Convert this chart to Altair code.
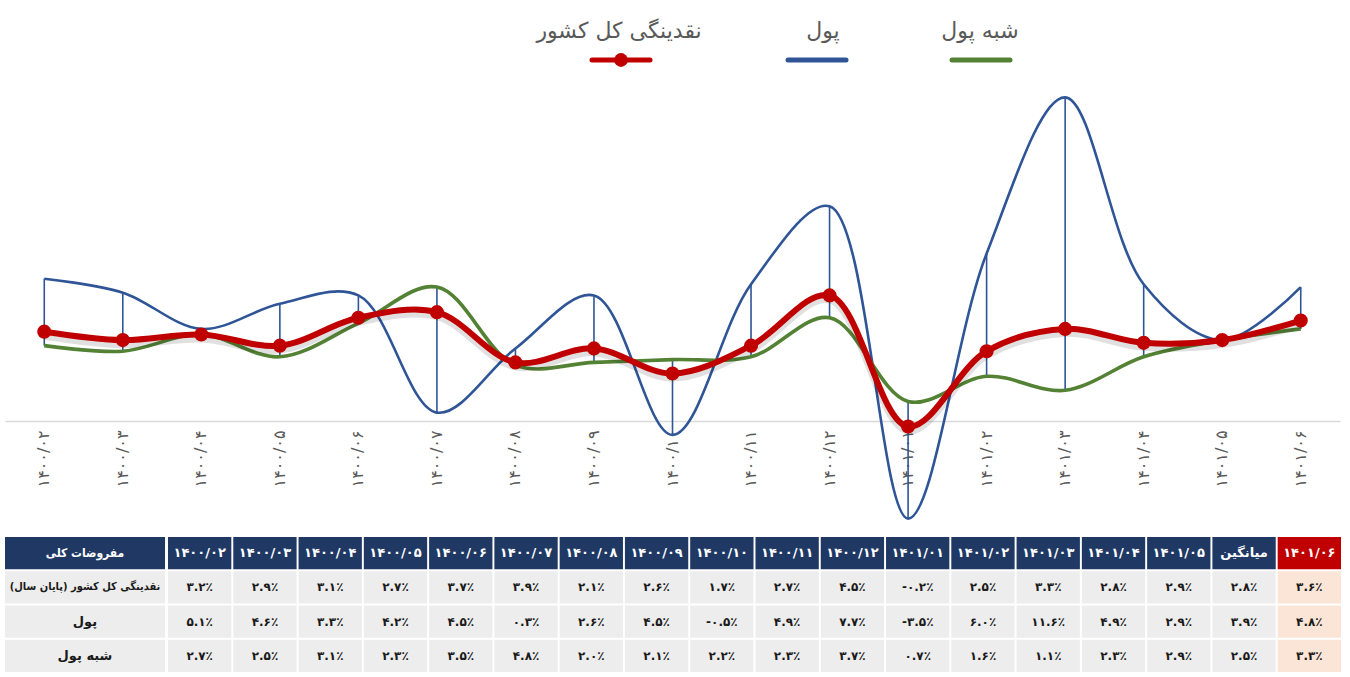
import altair as alt
import pandas as pd

FA = str.maketrans("0123456789", "۰۱۲۳۴۵۶۷۸۹")
def fa(s):
    return str(s).translate(FA)

months = ["1400/02", "1400/03", "1400/04", "1400/05", "1400/06", "1400/07", "1400/08",
          "1400/09", "1400/10", "1400/11", "1400/12", "1401/01", "1401/02", "1401/03",
          "1401/04", "1401/05", "1401/06"]
months_fa = [fa(m) for m in months]

liquidity = [3.2, 2.9, 3.1, 2.7, 3.7, 3.9, 2.1, 2.6, 1.7, 2.7, 4.5, -0.2, 2.5, 3.3, 2.8, 2.9, 3.6]
money     = [5.1, 4.6, 3.3, 4.2, 4.5, 0.3, 2.6, 4.5, -0.5, 4.9, 7.7, -3.5, 6.0, 11.6, 4.9, 2.9, 4.8]
quasi     = [2.7, 2.5, 3.1, 2.3, 3.5, 4.8, 2.0, 2.1, 2.2, 2.3, 3.7, 0.7, 1.6, 1.1, 2.3, 2.9, 3.3]
averages  = [2.8, 3.9, 2.5]

s_liq = "نقدینگی کل کشور"
s_money = "پول"
s_quasi = "شبه پول"
row_labels = ["نقدینگی کل کشور (پایان سال)", "پول", "شبه پول"]
header_label = "مفروضات کلی"
avg_label = "میانگین"

RED = "#c00000"
BLUE = "#2f5597"
GREEN = "#548235"
NAVY = "#1f3864"
FONT = "DejaVu Sans"
FONT_C = "DejaVu Sans Condensed"

W = 1335

# ---------------- legend ----------------
leg_items = [(s_liq, RED, 614, 616), (s_money, BLUE, 818, 812), (s_quasi, GREEN, 975, 976)]
leg_layers = []
for name, col, tx_, lx in leg_items:
    d = alt.Chart(pd.DataFrame({"name": [name]}))
    leg_layers.append(d.mark_text(fontSize=22, font=FONT, color="#595959", baseline="middle").encode(
        x=alt.value(tx_), y=alt.value(31), text="name:N"))
    leg_layers.append(d.mark_rule(strokeWidth=5, strokeCap="round", color=col).encode(
        x=alt.value(lx - 29), x2=alt.value(lx + 29), y=alt.value(60)))
    if name == s_liq:
        leg_layers.append(d.mark_circle(size=190, color=RED, opacity=1).encode(
            x=alt.value(lx), y=alt.value(60)))
legend = alt.layer(*leg_layers).properties(width=W, height=72)

# ---------------- line chart ----------------
df = pd.DataFrame({"month": months_fa, "liq": liquidity, "money": money, "quasi": quasi})
df["hi"] = df[["liq", "money", "quasi"]].max(axis=1)
df["lo"] = df[["liq", "money", "quasi"]].min(axis=1)

xenc = alt.X("month:N", sort=months_fa, scale=alt.Scale(paddingInner=0, paddingOuter=0),
             axis=alt.Axis(title=None, labelAngle=270, offset=-116, ticks=False,
                           domainColor="#d9d9d9", domainWidth=1.5, labelColor="#595959",
                           labelFontSize=16, labelFont=FONT, labelPadding=9, grid=False))
yscale = alt.Scale(domain=[-4.16, 12.51], nice=False, zero=False)
base = alt.Chart(df)
hilo = base.mark_rule(color=BLUE, strokeWidth=1.6).encode(
    x=xenc, y=alt.Y("hi:Q", scale=yscale, axis=None), y2="lo:Q")
l_money = base.mark_line(color=BLUE, strokeWidth=2.6, interpolate="catmull-rom").encode(
    x=xenc, y=alt.Y("money:Q", scale=yscale, axis=None))
l_quasi = base.mark_line(color=GREEN, strokeWidth=3.6, interpolate="catmull-rom").encode(
    x=xenc, y=alt.Y("quasi:Q", scale=yscale, axis=None))
l_liq_sh = base.mark_line(color="#000000", opacity=0.12, strokeWidth=8, interpolate="catmull-rom",
                          yOffset=4).encode(x=xenc, y=alt.Y("liq:Q", scale=yscale, axis=None))
l_liq = base.mark_line(color=RED, strokeWidth=6, interpolate="catmull-rom").encode(
    x=xenc, y=alt.Y("liq:Q", scale=yscale, axis=None))
p_liq = base.mark_circle(color=RED, size=200, opacity=1).encode(
    x=xenc, y=alt.Y("liq:Q", scale=yscale, axis=None))
lines = alt.layer(hilo, l_money, l_quasi, l_liq_sh, l_liq, p_liq).properties(width=W, height=465)

# ---------------- table ----------------
def pct(v):
    return fa(f"{v:.1f}") + "٪"

cols = months_fa[:-1] + [avg_label, months_fa[-1]]
rows = ["h", "r1", "r2", "r3"]
series = [liquidity, money, quasi]
recs = []
for ci, c in enumerate(cols):
    last = ci == len(cols) - 1
    recs.append({"col": c, "row": "h", "text": c, "kind": "hr" if last else "h"})
    for ri, s in enumerate(series):
        if c == avg_label:
            v = averages[ri]
        elif last:
            v = s[-1]
        else:
            v = s[ci]
        recs.append({"col": c, "row": rows[ri + 1], "text": pct(v), "kind": "bh" if last else "b"})
tdf = pd.DataFrame(recs)

ty = alt.Y("row:N", sort=rows, scale=alt.Scale(paddingInner=0.06, paddingOuter=0), axis=None)
tx = alt.X("col:N", sort=cols, scale=alt.Scale(paddingInner=0.03, paddingOuter=0), axis=None)
fill_scale = alt.Scale(domain=["h", "hr", "b", "bh"], range=[NAVY, RED, "#ededed", "#fbe5d6"])
tb = alt.Chart(tdf)
cells = tb.mark_rect().encode(x=tx, y=ty, fill=alt.Fill("kind:N", scale=fill_scale, legend=None))
htext = tb.transform_filter("datum.row == 'h'").mark_text(
    color="white", fontSize=13, fontWeight="bold", font=FONT).encode(x=tx, y=ty, text="text:N")
btext = tb.transform_filter("datum.row != 'h'").mark_text(
    color="#1a1a1a", fontSize=12, fontWeight="bold", font=FONT).encode(x=tx, y=ty, text="text:N")
grid = alt.layer(cells, htext, btext).properties(width=1173, height=135)

ldf = pd.DataFrame({"row": rows, "text": [header_label] + row_labels, "kind": ["h", "b", "b", "b"]})
lb = alt.Chart(ldf)
lcells = lb.mark_rect().encode(y=ty, fill=alt.Fill("kind:N", scale=fill_scale, legend=None))
lh = lb.transform_filter("datum.row == 'h'").mark_text(
    color="white", fontSize=12, fontWeight="bold", font=FONT_C).encode(y=ty, text="text:N")
lb1 = lb.transform_filter("datum.row == 'r1'").mark_text(
    color="#1a1a1a", fontSize=11, fontWeight="bold", font=FONT_C).encode(y=ty, text="text:N")
lb2 = lb.transform_filter("datum.row == 'r2' || datum.row == 'r3'").mark_text(
    color="#1a1a1a", fontSize=13, fontWeight="bold", font=FONT).encode(y=ty, text="text:N")
lab = alt.layer(lcells, lh, lb1, lb2).properties(width=160, height=135)

table = alt.hconcat(lab, grid, spacing=2)

chart = alt.vconcat(legend, lines, table, spacing=0).properties(
    padding={"left": 5, "top": 0, "right": 5, "bottom": 0}, background="white"
).configure_view(stroke=None)

chart.save("out.html", embed_options={"renderer": "svg", "actions": False})
